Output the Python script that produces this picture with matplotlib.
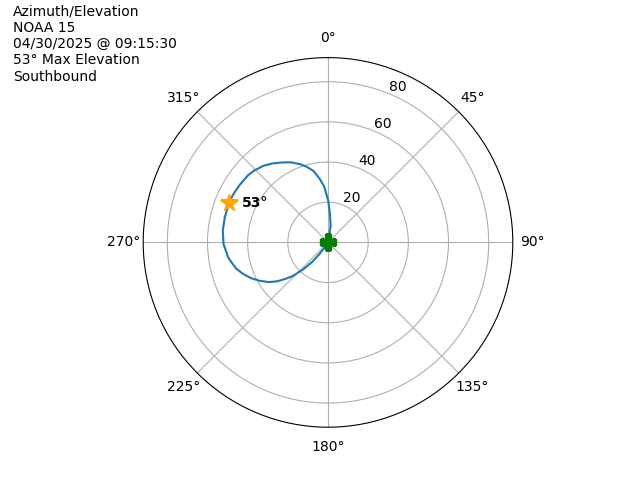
import numpy as np
import matplotlib
matplotlib.use("Agg")
import matplotlib.pyplot as plt

sat_name = "NOAA 15"
pass_time = "04/30/2025 @ 09:15:30"
direction = "Southbound"

# pass track (azimuth deg, elevation deg), AOS -> LOS
azimuth = [15, 9, 4, 0.4, 356, 352.5, 348.4, 344, 340.3, 335, 329.9, 324.5,
           319.8, 314.5, 310, 302.7, 297, 292, 284, 276.3, 269, 261.3, 258.2,
           254, 249.5, 245, 240.5, 236, 232.5, 229.5, 226.5, 222.5, 219, 216.5,
           215, 215]
elevation = [0, 8.4, 14, 20.7, 28, 32, 36.4, 39.3, 41.4, 44, 46, 48.2,
             49.9, 51.2, 52, 52.5, 52.9, 53, 52.9, 52.7, 52, 50.2, 49,
             47.5, 45, 42.2, 38.9, 35.3, 31.8, 28, 24.5, 18, 12.5, 7.5,
             4, 0]

theta = np.unwrap(np.radians(azimuth))
el = np.array(elevation)
imax = int(np.argmax(el))
max_el = int(round(el[imax]))

fig = plt.figure(figsize=(6.4, 4.8), dpi=100)
ax = fig.add_subplot(111, projection="polar")
ax.set_theta_zero_location("N")
ax.set_theta_direction(-1)

ax.plot(theta, el, color="#1f77b4", linewidth=1.5)
ax.plot(theta[0], el[0], marker="P", color="green", markersize=11, linestyle="none")
ax.plot(theta[imax], el[imax], marker="*", color="orange", markersize=13, linestyle="none")
ax.annotate(f"{max_el}°", xy=(theta[imax], el[imax]), xytext=(9, 0),
            textcoords="offset points", va="center", ha="left",
            fontsize=10, fontweight="bold")

ax.set_rlim(0, 92)
ax.set_rticks([20, 40, 60, 80])

fig.text(0.02, 0.99,
         f"Azimuth/Elevation\n{sat_name}\n{pass_time}\n{max_el}° Max Elevation\n{direction}",
         ha="left", va="top", fontsize=10)

fig.savefig("out.png", dpi=100)
